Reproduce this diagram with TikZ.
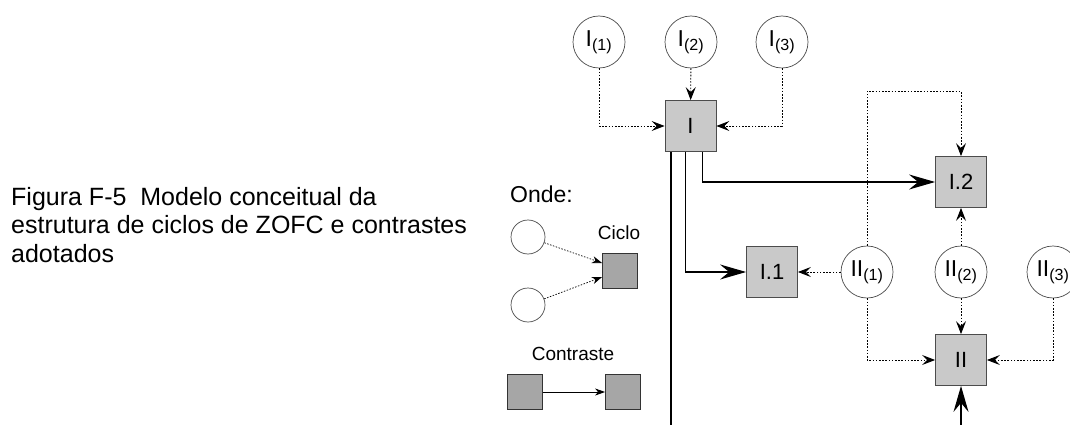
\documentclass[tikz,border=0pt]{standalone}
\usepackage{fontspec}
\setmainfont{Liberation Sans}
\usetikzlibrary{arrows.meta}
\begin{document}
\begin{tikzpicture}[x=1pt,y=-1pt,
  circ/.style={circle,draw=black!70,fill=white,line width=0.7pt,minimum size=52pt,inner sep=0pt,font=\fontsize{23}{26}\selectfont},
  lcirc/.style={circle,draw=black!70,fill=white,line width=0.7pt,minimum size=34pt,inner sep=0pt},
  cyc/.style={draw=black!70,fill=black!21,line width=0.8pt,minimum size=51pt,inner sep=0pt,font=\fontsize{22}{26}\selectfont},
  lcyc/.style={draw=black!80,fill=black!35,line width=0.8pt,minimum size=35pt,inner sep=0pt},
  txt/.style={anchor=base west,inner sep=0pt},
  captxt/.style={txt,font=\fontsize{25}{29}\selectfont},
  dotlink/.style={line width=0.9pt,dash pattern=on 1.6pt off 1.6pt,-{Stealth[length=13pt,width=10pt,inset=5pt]}},
  contrast/.style={line width=1.3pt,-{Stealth[length=26pt,width=15pt,inset=9pt]}},
  legdot/.style={line width=0.7pt,dash pattern=on 1.5pt off 1.5pt,-{Stealth[length=10pt,width=7pt,inset=3pt]}},
  legline/.style={line width=0.8pt,-{Stealth[length=10pt,width=7pt,inset=3pt]}}]
\useasboundingbox (0,0) rectangle (1070,425);

% caption
\node[captxt] (cap1) at (11,205) {Figura F-5\ \ Modelo conceitual da};
\node[captxt] (cap2) at (11,233.5) {estrutura de ciclos de ZOFC e contrastes};
\node[captxt] (cap3) at (11,262) {adotados};

% legend
\node[txt,font=\fontsize{23}{26}\selectfont] (onde) at (510,202) {Onde:};
\node[lcirc] (l1) at (528,237) {};
\node[lcirc] (l2) at (528,305) {};
\node[lcyc] (lc) at (620,271) {};
\node[anchor=base,inner sep=0pt,font=\fontsize{19}{22}\selectfont] (ciclo) at (619,239) {Ciclo};
\draw[legdot] (l1) -- ([yshift=8pt]lc.west);
\draw[legdot] (l2) -- ([yshift=-6pt]lc.west);
\node[anchor=base,inner sep=0pt,font=\fontsize{19}{22}\selectfont] (contr) at (573,360) {Contraste};
\node[lcyc] (la) at (525,392) {};
\node[lcyc] (lb) at (623,392) {};
\draw[legline] (la) -- (lb);

% cycles
\node[circ] (i1) at (599,42) {I\textsubscript{(1)}};
\node[circ] (i2) at (691,42) {I\textsubscript{(2)}};
\node[circ] (i3) at (782,42) {I\textsubscript{(3)}};
\node[cyc] (bI) at (690.5,126) {I};
\node[cyc] (bI1) at (772,272) {I.1};
\node[cyc] (bI2) at (961,182) {I.2};
\node[cyc] (bII) at (961,360) {II};
\node[circ] (ii1) at (867,272) {II\textsubscript{(1)}};
\node[circ] (ii2) at (961,272) {II\textsubscript{(2)}};
\node[circ] (ii3) at (1053,272) {II\textsubscript{(3)}};
\coordinate (trunkend) at (671,425);
\coordinate (feed) at (961,425);

\draw[dotlink] (i1.south) |- (bI.west);
\draw[dotlink] (i2) -- (bI);
\draw[dotlink] (i3.south) |- (bI.east);
\draw[line width=1.4pt] (bI.south west -| trunkend) -- (trunkend);
\draw[contrast] ([xshift=21pt]bI.south west) |- (bI1.west);
\draw[contrast] ([xshift=38pt]bI.south west) |- (bI2.west);

\draw[dotlink] (ii1) -- (bI1);
\draw[dotlink] (ii1.north) |- ([yshift=65pt]bI2.north) -- (bI2.north);
\draw[dotlink] (ii2) -- (bI2);
\draw[dotlink] (ii2) -- (bII);
\draw[dotlink] (ii1.south) |- (bII.west);
\draw[dotlink] (ii3.south) |- (bII.east);
\draw[contrast] (feed) -- (bII.south);
\end{tikzpicture}
\end{document}
